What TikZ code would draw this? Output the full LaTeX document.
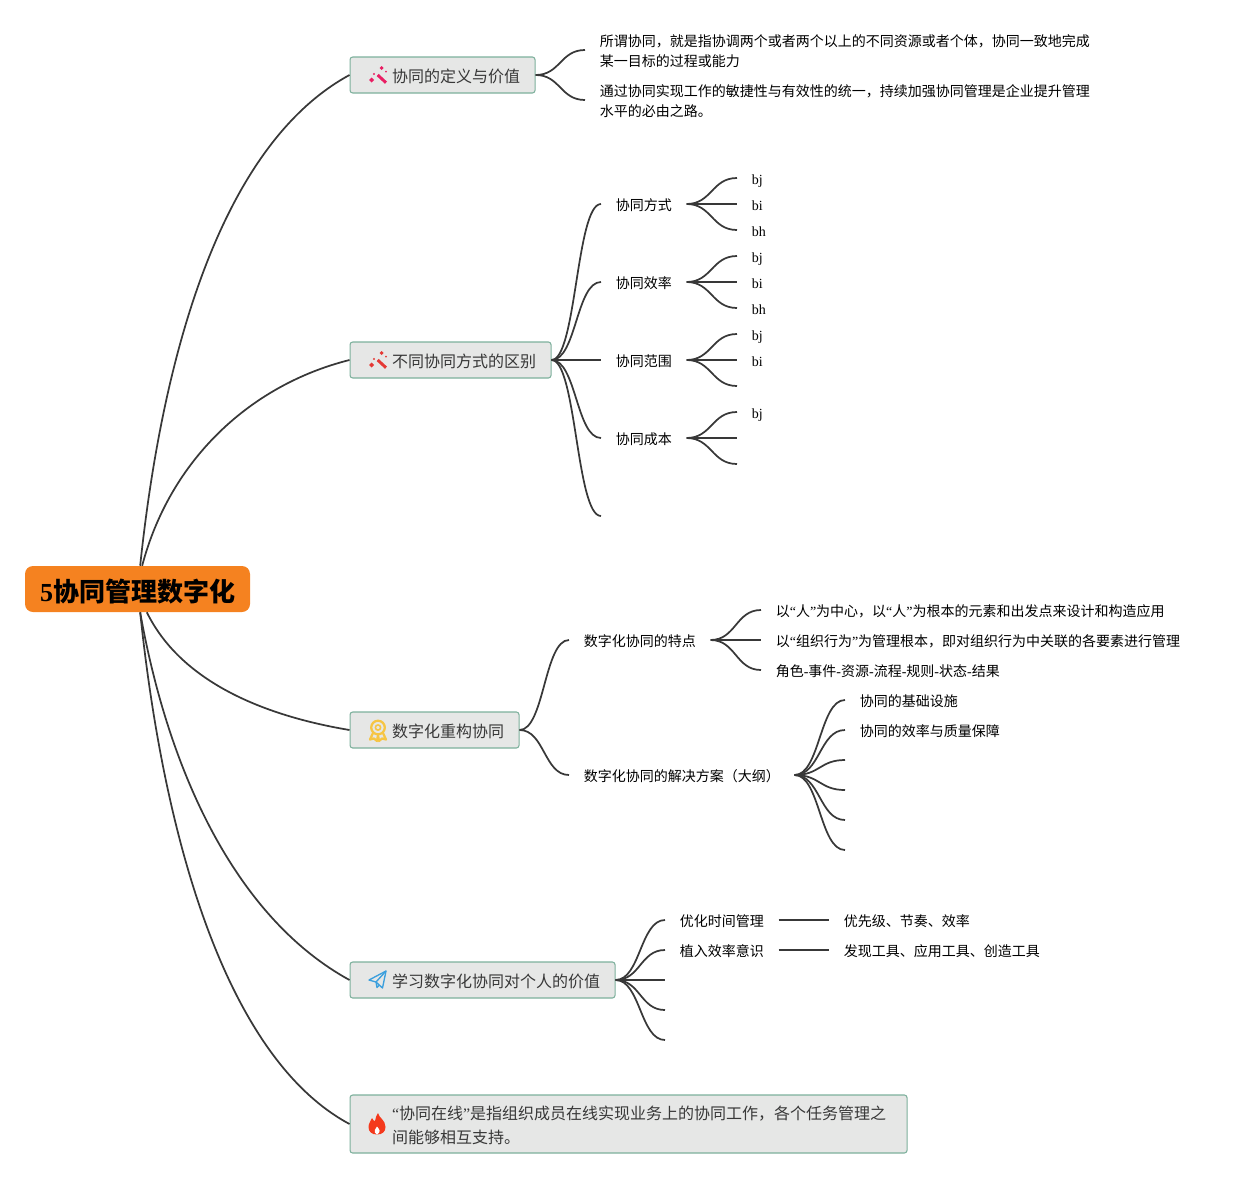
\documentclass[tikz,border=0pt]{standalone}
\usepackage{fontspec}
\usetikzlibrary{calc}
\setmainfont{Liberation Serif}
\newfontfamily\cjk{Noto Sans CJK SC}
\newcommand{\lat}[1]{{\rmfamily #1}}
\newcommand{\pad}{\hspace*{20.25pt}}
\definecolor{linecol}{HTML}{383838}
\definecolor{boxfill}{HTML}{E6E7E6}
\definecolor{boxline}{HTML}{7DB09C}
\definecolor{rootfill}{HTML}{F58220}
\definecolor{wandpink}{HTML}{E91E63}
\definecolor{wandred}{HTML}{E53935}
\definecolor{medalcol}{HTML}{F6C544}
\definecolor{planecol}{HTML}{3B9FDD}
\definecolor{firecol}{HTML}{F4391C}
\tikzset{
	root/.style={draw=none,fill=rootfill,rounded corners=6pt,inner sep=0,minimum width=168.75pt,minimum height=34.5pt,text height=19.5pt,text depth=0.2pt,font=\cjk\bfseries\fontsize{19.5}{24}\selectfont},
	topic/.style={draw=boxline,line width=0.8pt,fill=boxfill,rounded corners=2pt,anchor=west,inner xsep=11.25pt,inner ysep=0,minimum height=27pt,text=linecol,align=left,text height=11.5pt,text depth=1pt,font=\cjk\fontsize{12}{18}\selectfont},
	longtopic/.style={topic,text height=,text depth=,text width=395.25pt,minimum height=43.5pt},
	sub/.style={anchor=west,inner xsep=10.9pt,inner ysep=1pt,text=black,align=left,text height=10.5pt,text depth=1pt,font=\cjk\fontsize{10.5}{15}\selectfont},
	note/.style={sub,text height=,text depth=},
	leaf/.style={anchor=west,inner xsep=10.9pt,inner ysep=1pt,text height=10.5pt,text depth=0.5pt,font=\fontsize{10.5}{15}\selectfont},
	link/.style={draw=linecol,line width=1.3pt,to path={let \p1=(\tikztostart),\p2=(\tikztotarget) in .. controls ({0.5*\x1+0.5*\x2},\y1) and ({0.5*\x1+0.5*\x2},\y2) .. (\tikztotarget)}},
	rootlink/.style={draw=linecol,line width=1.3pt},
	wand/.pic={
		\draw[#1,line width=2.2pt] (0.7,-1) -- (9,6.7);
		\fill[#1] (-5.3,1.5) -- (-2.8,4) -- (-5.3,6.5) -- (-7.8,4) -- cycle;
		\fill[#1] (4.7,-10) -- (6.7,-8) -- (4.7,-6) -- (2.7,-8) -- cycle;
		\fill[#1] (-3,-2) circle (1.1);
		\fill[#1] (9,-4.3) circle (1);
	},
	medal/.pic={
		\draw[medalcol,line width=1.7pt] (1,-2.5) circle (6.8);
		\draw[medalcol,line width=1.2pt] (1,-2.5) circle (2.6);
		\draw[medalcol,line width=1.7pt,line join=round] (-4,3) -- (-7,9.5) -- (-3,8.5) -- (0,11) -- (1,5) -- (2,11) -- (5,8.5) -- (9,9.5) -- (6,3);
	},
	plane/.pic={
		\draw[planecol,line width=1pt,line join=round] (-8,0) -- (9,-9) -- (5.5,8) -- (-1,2) -- cycle;
		\draw[planecol,line width=1pt,line join=round] (9,-9) -- (-1,2) -- (0,7.5) -- (2.5,5);
	},
	fire/.pic={
		\fill[firecol] (1,-11) .. controls (2,-6) and (8.5,-4) .. (8.5,3) .. controls (8.5,8) and (5,10.5) .. (0,10.5) .. controls (-5,10.5) and (-8.5,8) .. (-8.5,3) .. controls (-8.5,-1) and (-6,-3) .. (-5,-6) .. controls (-4,-4) and (-3,-3) .. (-2,-3) .. controls (-1,-6) and (-1,-9) .. (1,-11) -- cycle;
		\fill[white] (0,10.5) .. controls (-2.2,9.5) and (-2.8,7.5) .. (-2.2,6) .. controls (-1.8,5) and (-0.7,4) .. (0,2.5) .. controls (1,4) and (2.3,5) .. (2.6,6.5) .. controls (2.8,8) and (2,9.5) .. (0,10.5) -- cycle;
	}
}
\begin{document}
\begin{tikzpicture}[x=0.75pt,y=-0.75pt]
	\useasboundingbox (0,0) rectangle (1241,1178);

	\node[root] (root) at (137.5,589) {\lat{5}协同管理数字化};

	\node[topic,minimum width=138.75pt] (def) at (349.5,75) {\pad 协同的定义与价值};
	\node[topic,minimum width=150.75pt] (diff) at (349.5,360) {\pad 不同协同方式的区别};
	\node[topic,minimum width=126.75pt] (rebuild) at (349.5,730) {\pad 数字化重构协同};
	\node[topic,minimum width=198.75pt] (value) at (349.5,980) {\pad 学习数字化协同对个人的价值};
	\node[longtopic] (online) at (349.5,1124) {\pad\rule{0pt}{11.5pt}\lat{“}协同在线\lat{”}是指组织成员在线实现业务上的协同工作，各个任务管理之\\\pad 间能够相互支持。};

	\pic at (377,76) {wand=wandpink};
	\pic at (377,361) {wand=wandred};
	\pic at (377,730) {medal};
	\pic at (377,980) {plane};
	\pic at (377,1124) {fire};

	\node[note] (def1) at (585,50) {\rule{0pt}{10.2pt}所谓协同，就是指协调两个或者两个以上的不同资源或者个体，协同一致地完成\\某一目标的过程或能力};
	\node[note] (def2) at (585,100) {\rule{0pt}{10.2pt}通过协同实现工作的敏捷性与有效性的统一，持续加强协同管理是企业提升管理\\水平的必由之路。};

	\node[sub] (way) at (601,204) {协同方式};
	\node[sub] (eff) at (601,282) {协同效率};
	\node[sub] (range) at (601,360) {协同范围};
	\node[sub] (cost) at (601,438) {协同成本};
	\coordinate (diff5) at (601,516);

	\node[leaf] (way1) at (737,178) {bj};
	\node[leaf] (way2) at (737,204) {bi};
	\node[leaf] (way3) at (737,230) {bh};
	\node[leaf] (eff1) at (737,256) {bj};
	\node[leaf] (eff2) at (737,282) {bi};
	\node[leaf] (eff3) at (737,308) {bh};
	\node[leaf] (range1) at (737,334) {bj};
	\node[leaf] (range2) at (737,360) {bi};
	\coordinate (range3) at (737,386);
	\node[leaf] (cost1) at (737,412) {bj};
	\coordinate (cost2) at (737,438);
	\coordinate (cost3) at (737,464);

	\node[sub] (trait) at (569,640) {数字化协同的特点};
	\node[sub] (plan) at (569,775) {数字化协同的解决方案（大纲）};
	\node[sub] (trait1) at (761,610) {以\lat{“}人\lat{”}为中心，以\lat{“}人\lat{”}为根本的元素和出发点来设计和构造应用};
	\node[sub] (trait2) at (761,640) {以\lat{“}组织行为\lat{”}为管理根本，即对组织行为中关联的各要素进行管理};
	\node[sub] (trait3) at (761,670) {角色\lat{-}事件\lat{-}资源\lat{-}流程\lat{-}规则\lat{-}状态\lat{-}结果};
	\node[sub] (plan1) at (845,700) {协同的基础设施};
	\node[sub] (plan2) at (845,730) {协同的效率与质量保障};
	\coordinate (plan3) at (845,760);
	\coordinate (plan4) at (845,790);
	\coordinate (plan5) at (845,820);
	\coordinate (plan6) at (845,850);

	\node[sub] (time) at (665,920) {优化时间管理};
	\node[sub] (sense) at (665,950) {植入效率意识};
	\coordinate (value3) at (665,980);
	\coordinate (value4) at (665,1010);
	\coordinate (value5) at (665,1040);
	\node[sub] (time1) at (829,920) {优先级、节奏、效率};
	\node[sub] (sense1) at (829,950) {发现工具、应用工具、创造工具};

	\draw[rootlink] ([xshift=2pt]root.north) .. controls (165,330) and (230,140) .. (def.west);
	\draw[rootlink] ([xshift=3.5pt]root.north) .. controls (170,460) and (250,385) .. (diff.west);
	\draw[rootlink] ([xshift=7pt]root.south) .. controls (180,680) and (260,715) .. (rebuild.west);
	\draw[rootlink] ([xshift=2pt]root.south) .. controls (170,780) and (240,920) .. (value.west);
	\draw[rootlink] ([xshift=2pt]root.south) .. controls (165,850) and (230,1060) .. (online.west);

	\path [link](def.east) edge (def1.west);
	\path [link](def.east) edge (def2.west);
	\path [link](diff.east) edge (way.west);
	\path [link](diff.east) edge (eff.west);
	\path [link](diff.east) edge (range.west);
	\path [link](diff.east) edge (cost.west);
	\path [link](diff.east) edge (diff5);
	\path [link](way.east) edge (way1.west);
	\path [link](way.east) edge (way2.west);
	\path [link](way.east) edge (way3.west);
	\path [link](eff.east) edge (eff1.west);
	\path [link](eff.east) edge (eff2.west);
	\path [link](eff.east) edge (eff3.west);
	\path [link](range.east) edge (range1.west);
	\path [link](range.east) edge (range2.west);
	\path [link](range.east) edge (range3);
	\path [link](cost.east) edge (cost1.west);
	\path [link](cost.east) edge (cost2);
	\path [link](cost.east) edge (cost3);
	\path [link](rebuild.east) edge (trait.west);
	\path [link](rebuild.east) edge (plan.west);
	\path [link](trait.east) edge (trait1.west);
	\path [link](trait.east) edge (trait2.west);
	\path [link](trait.east) edge (trait3.west);
	\path [link](plan.east) edge (plan1.west);
	\path [link](plan.east) edge (plan2.west);
	\path [link](plan.east) edge (plan3);
	\path [link](plan.east) edge (plan4);
	\path [link](plan.east) edge (plan5);
	\path [link](plan.east) edge (plan6);
	\path [link](value.east) edge (time.west);
	\path [link](value.east) edge (sense.west);
	\path [link](value.east) edge (value3);
	\path [link](value.east) edge (value4);
	\path [link](value.east) edge (value5);
	\path [link](time.east) edge (time1.west);
	\path [link](sense.east) edge (sense1.west);
\end{tikzpicture}
\end{document}
